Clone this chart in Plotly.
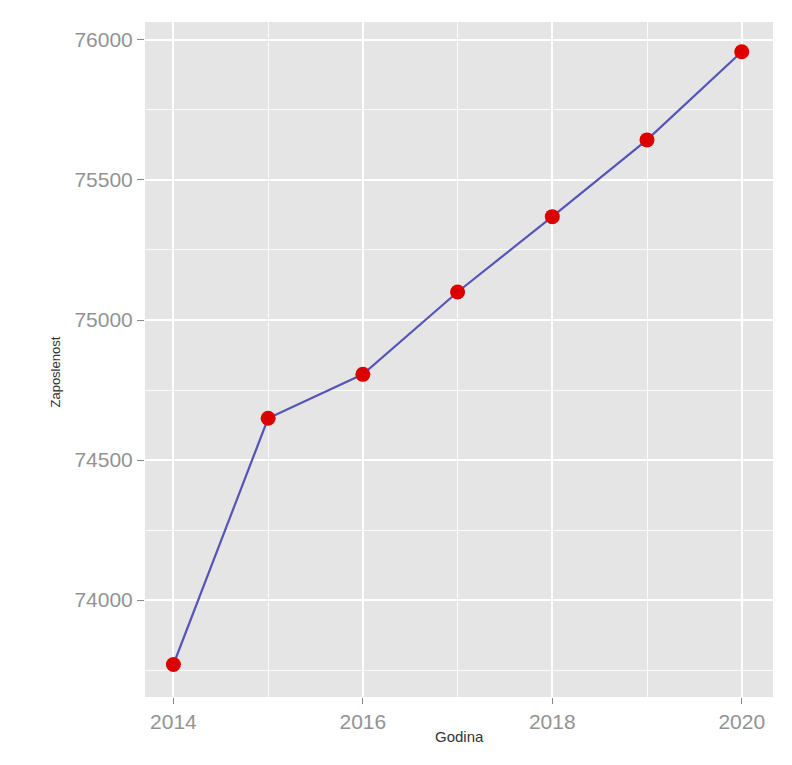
import plotly.graph_objects as go

godina = [2014, 2015, 2016, 2017, 2018, 2019, 2020]
zaposlenost = [73770, 74649, 74806, 75100, 75369, 75643, 75958]
x_ticks = [2014, 2016, 2018, 2020]
y_ticks = [74000, 74500, 75000, 75500, 76000]

fig = go.Figure()
fig.add_trace(go.Scatter(
    x=godina, y=zaposlenost, mode="lines+markers",
    line=dict(color="#5555b8", width=2.2),
    marker=dict(color="#dd0000", size=15, line=dict(width=0)),
    showlegend=False,
))

font_family = "Liberation Sans, Arial, sans-serif"
fig.update_layout(
    width=792, height=765,
    margin=dict(l=137, r=27, t=14, b=76),
    paper_bgcolor="white",
    plot_bgcolor="#e5e5e5",
    font=dict(family=font_family),
    xaxis=dict(
        range=[2013.70, 2020.33],
        tickvals=x_ticks, ticktext=[str(v) for v in x_ticks],
        showgrid=True, gridcolor="white", gridwidth=1.5,
        minor=dict(dtick=1, tick0=2014, showgrid=True, gridcolor="#fbfbfb", gridwidth=1.2, ticklen=0),
        ticks="outside", ticklen=6, tickwidth=1.2, tickcolor="#888888",
        tickfont=dict(size=21, color="#939393"),
        zeroline=False, showline=False,
    ),
    yaxis=dict(
        range=[73654, 76064],
        tickvals=y_ticks, ticktext=[str(v) for v in y_ticks],
        showgrid=True, gridcolor="white", gridwidth=1.5,
        minor=dict(dtick=250, tick0=73750, showgrid=True, gridcolor="#fbfbfb", gridwidth=1.2, ticklen=0),
        ticks="outside", ticklen=7, tickwidth=1.2, tickcolor="#888888",
        tickfont=dict(size=21, color="#939393"),
        zeroline=False, showline=False,
    ),
    annotations=[
        dict(text="Godina", xref="paper", yref="paper", x=0.5, y=-0.059,
             xanchor="center", yanchor="middle", showarrow=False,
             font=dict(size=15, color="#333333")),
        dict(text="Zaposlenost", xref="paper", yref="paper", x=-0.143, y=0.481,
             xanchor="center", yanchor="middle", showarrow=False, textangle=-90,
             font=dict(size=13, color="#333333")),
    ],
)

fig.write_html("out.html")
